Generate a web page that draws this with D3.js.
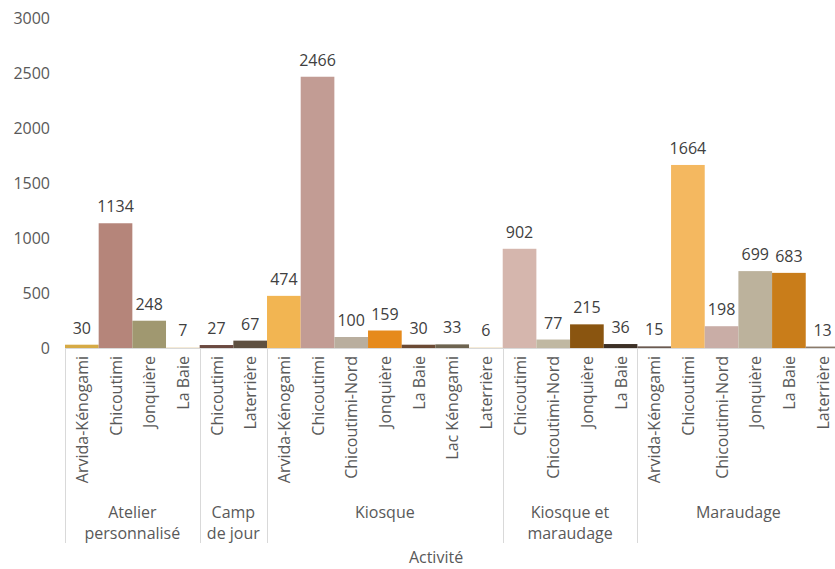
<!DOCTYPE html>
<html><head><meta charset="utf-8">
<script src="https://cdn.jsdelivr.net/npm/d3@7"></script>
<style>body{margin:0;background:#fff}svg{display:block}text{font-family:"Open Sans",sans-serif}</style>
</head><body><svg id="c" width="835" height="569"></svg>
<script>
const groups = ["Atelier personnalisé","Camp de jour","Kiosque","Kiosque et maraudage","Maraudage"];
const groupLines = [["Atelier","personnalisé"],["Camp","de jour"],["Kiosque"],["Kiosque et","maraudage"],["Maraudage"]];
const groupOf = [0,0,0,0, 1,1, 2,2,2,2,2,2,2, 3,3,3,3, 4,4,4,4,4,4];
const places = ["Arvida-Kénogami","Chicoutimi","Jonquière","La Baie",
  "Chicoutimi","Laterrière",
  "Arvida-Kénogami","Chicoutimi","Chicoutimi-Nord","Jonquière","La Baie","Lac Kénogami","Laterrière",
  "Chicoutimi","Chicoutimi-Nord","Jonquière","La Baie",
  "Arvida-Kénogami","Chicoutimi","Chicoutimi-Nord","Jonquière","La Baie","Laterrière"];
const values = [30,1134,248,7, 27,67, 474,2466,100,159,30,33,6, 902,77,215,36, 15,1664,198,699,683,13];
const colors = ["#d6aa45","#b5857a","#a09870","#f3e6cc",
  "#6b4a40","#5e5040",
  "#f2b552","#c29c94","#b9ae9e","#e68a1c","#6b4a34","#6e6450","#f2e2c4",
  "#d5b6ad","#c0b8a2","#8a5510","#3d3026",
  "#6a5a50","#f4b860","#c9ada6","#bcb29c","#c97d1a","#8a7a6a"];
const yTicks = [0,500,1000,1500,2000,2500,3000];

const svg = d3.select("#c");
const idx = d3.range(values.length);
const x = d3.scaleBand().domain(idx).range([65, 65 + values.length*33.67]).padding(0);
const y = d3.scaleLinear().domain([0,3000]).range([348,18]);

// y axis labels
const yAxis = d3.axisLeft(y).tickValues(yTicks).tickSize(0).tickPadding(0).tickFormat(d3.format("d"));
const ga = svg.append("g").attr("transform","translate(50,0)").call(yAxis);
ga.select(".domain").remove();
ga.selectAll("text").attr("font-size",16).attr("fill","#595959").attr("font-family","Open Sans, sans-serif");

// bars
svg.append("g").selectAll("rect").data(idx).join("rect")
  .attr("x", i=>x(i)).attr("width", x.bandwidth())
  .attr("y", i=>y(values[i])).attr("height", i=>y(0)-y(values[i]))
  .attr("fill", i=>colors[i]);

// value labels
svg.append("g").selectAll("text").data(idx).join("text")
  .attr("x", i=>x(i)+x.bandwidth()/2).attr("y", i=>y(values[i])-11)
  .attr("text-anchor","middle").attr("font-size",16).attr("fill","#404040")
  .text(i=>values[i]);

// baseline
svg.append("line").attr("x1",65).attr("x2",835).attr("y1",348.5).attr("y2",348.5)
  .attr("stroke","#d9d9d9");

// category labels
svg.append("g").selectAll("text").data(idx).join("text")
  .attr("transform", i=>`translate(${x(i)+x.bandwidth()/2+6},356) rotate(-90)`)
  .attr("text-anchor","end").attr("font-size",16).attr("fill","#595959")
  .text(i=>places[i]);

// group separators and labels
const bounds = [];
groups.forEach((g,gi)=>{
  const members = idx.filter(i=>groupOf[i]===gi);
  bounds.push([x(members[0]), x(members[members.length-1])+x.bandwidth()]);
});
const seps = [bounds[0][0]].concat(bounds.map(b=>b[1]));
svg.append("g").selectAll("line").data(seps).join("line")
  .attr("x1",d=>Math.round(d)+0.5).attr("x2",d=>Math.round(d)+0.5)
  .attr("y1",348).attr("y2",543).attr("stroke","#d9d9d9");
const gl = svg.append("g").selectAll("text").data(groups).join("text")
  .attr("text-anchor","middle").attr("font-size",16).attr("fill","#595959")
  .attr("x",(d,gi)=>(bounds[gi][0]+Math.min(bounds[gi][1],835))/2);
gl.each(function(d,gi){
  const t = d3.select(this);
  groupLines[gi].forEach((ln,k)=>{
    t.append("tspan").attr("x",(bounds[gi][0]+bounds[gi][1])/2).attr("y",518+k*21).text(ln);
  });
});

// axis title
svg.append("text").attr("x",436).attr("y",563).attr("text-anchor","middle")
  .attr("font-size",16).attr("fill","#595959").text("Activité");
</script></body></html>
